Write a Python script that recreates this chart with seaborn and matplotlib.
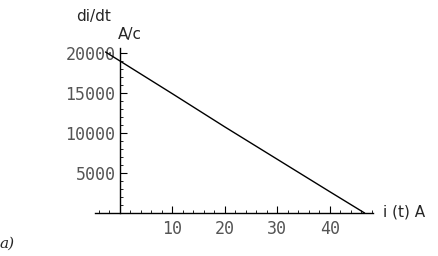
import numpy as np
import pandas as pd
import matplotlib
matplotlib.use("Agg")
import matplotlib.pyplot as plt
import seaborn as sns
from matplotlib.ticker import MultipleLocator

# values
current = [-2.7, 0, 10, 20, 30, 40, 46.6]
didt = [20100, 19000, 14900, 10750, 6700, 2650, 0]
x_ticks = [10, 20, 30, 40]
y_ticks = [5000, 10000, 15000, 20000]

df = pd.DataFrame({"i": current, "didt": didt})

sns.set_style("white")
plt.rcParams["font.family"] = ["DejaVu Sans"]

fig = plt.figure(figsize=(4.39, 2.56), dpi=100)
ax = fig.add_axes([95 / 439, 43 / 256, 278 / 439, 165 / 256])
sns.lineplot(data=df, x="i", y="didt", ax=ax, color="black", linewidth=1.0)

ax.set_xlim(-4.7, 48.2)
ax.set_ylim(0, 20600)
ax.spines["left"].set_position(("data", 0))
ax.spines["bottom"].set_position(("data", 0))
ax.spines["top"].set_visible(False)
ax.spines["right"].set_visible(False)
for s in ("left", "bottom"):
    ax.spines[s].set_color("black")
    ax.spines[s].set_linewidth(1.0)

ax.set_xticks(x_ticks)
ax.set_yticks(y_ticks)
ax.xaxis.set_minor_locator(MultipleLocator(2))
ax.yaxis.set_minor_locator(MultipleLocator(1000))
ax.tick_params(which="both", bottom=True, left=True, top=False, right=False,
               direction="in", color="black")
ax.tick_params(which="major", length=5, width=0.8, labelsize=12,
               labelcolor="#555555")
ax.tick_params(which="minor", length=2.5, width=0.6)
ax.tick_params(axis="x", which="major", pad=5)
ax.tick_params(axis="y", which="major", pad=3)
for lab in ax.get_xticklabels() + ax.get_yticklabels():
    lab.set_family("DejaVu Sans Mono")
ax.set_xlabel("")
ax.set_ylabel("")

fig.text(76 / 439, 1 - 17 / 256, "di/dt", fontsize=11, va="center", ha="left")
fig.text(118 / 439, 1 - 35 / 256, "A/c", fontsize=11, va="center", ha="left")
fig.text(383 / 439, 1 - 212 / 256, "i (t) A", fontsize=11, va="center", ha="left")
fig.text(-1 / 439, 1 - 244 / 256, "a)", fontsize=11, va="center", ha="left",
         family="DejaVu Serif", style="italic")

fig.savefig("out.png", dpi=100)
